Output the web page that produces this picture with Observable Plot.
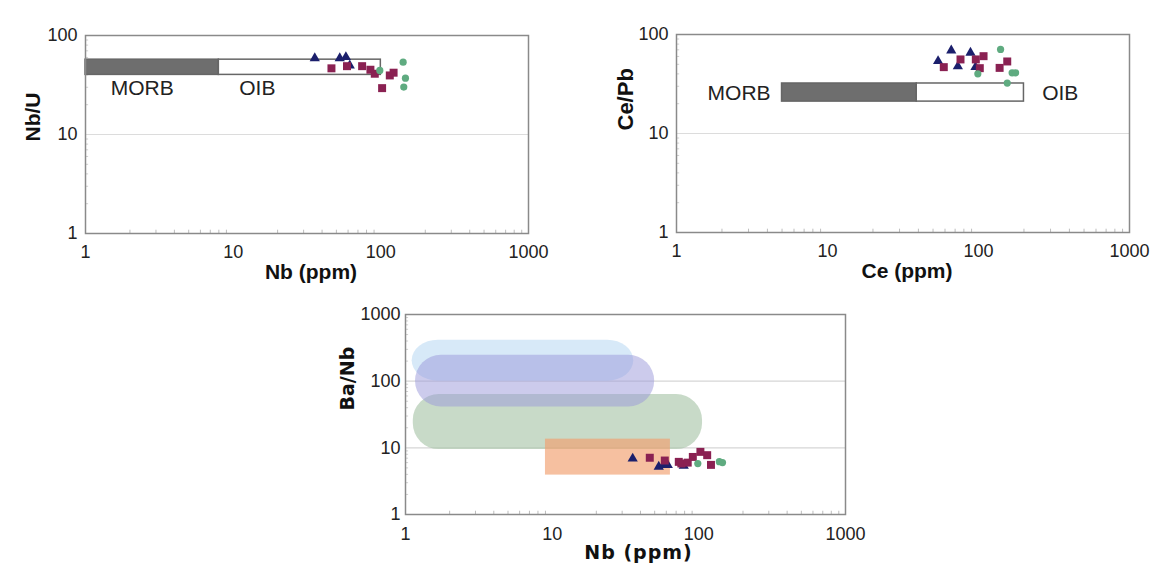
<!DOCTYPE html>
<html><head><meta charset="utf-8">
<script src="https://cdn.jsdelivr.net/npm/d3@7"></script>
<script src="https://cdn.jsdelivr.net/npm/@observablehq/plot@0.6"></script>
<style>
html,body{margin:0;padding:0;background:#fff;}
#wrap{position:relative;width:1160px;height:571px;overflow:hidden;background:#fff;}
.panel{position:absolute;}
</style></head><body><div id="wrap">
<div class="panel" id="p1" style="left:0;top:0"></div>
<div class="panel" id="p2" style="left:580px;top:0"></div>
<div class="panel" id="p3" style="left:320px;top:290px"></div>
</div>
<script>
// ---------- tick labels ----------
const xTicks = [1, 10, 100, 1000];
const yTicksTop = [1, 10, 100];
const yTicksBottom = [1, 10, 100, 1000];
const gridTop = [10];
const gridBottom = [10, 100];

// ---------- Panel 1: Nb vs Nb/U ----------
const p1TriNb  = [35.7, 52.7, 58, 61.6];
const p1TriNbU = [59, 59, 60.5, 49.8];
const p1SqNb   = [46.3, 59, 74.7, 85, 91, 102, 115, 122];
const p1SqNbU  = [46.6, 49, 49, 45.1, 41.1, 29.4, 39.5, 42.1];
const p1CiNb   = [98.4, 141.6, 146.8, 143];
const p1CiNbU  = [44.4, 53.8, 37.1, 30.1];
const p1BoxName = ["MORB", "OIB"];
const p1BoxX1 = [1, 8];
const p1BoxX2 = [8, 100];
const p1BoxY1 = [40, 40];
const p1BoxY2 = [57, 57];
const p1LabelX = [1.48, 11];
const p1LabelY = [29, 29];

// ---------- Panel 2: Ce vs Ce/Pb ----------
const p2TriCe   = [54, 66, 73, 88.5, 95.5];
const p2TriCePb = [53.8, 69, 47.6, 65.4, 46.8];
const p2SqCe    = [58.9, 76, 96, 102, 108, 138, 155];
const p2SqCePb  = [46.8, 56, 56, 45.7, 60.4, 46, 53.4];
const p2CiCe    = [99, 140, 167, 176, 155];
const p2CiCePb  = [40.1, 70.6, 41, 41, 32.3];
const p2BoxName = ["MORB", "OIB"];
const p2BoxX1 = [5, 39];
const p2BoxX2 = [39, 200];
const p2BoxY1 = [21, 21];
const p2BoxY2 = [32, 32];
const p2MorbLabel = {x: 4.2, y: 25.6};
const p2OibLabel = {x: 264, y: 25.6};

// ---------- Panel 3: Nb vs Ba/Nb ----------
const p3TriNb   = [35.4, 53.3, 57.6, 61.4, 78.9];
const p3TriBaNb = [6.9, 5.2, 5.5, 5.5, 5.4];
const p3SqNb    = [46.3, 58.6, 73, 76, 84, 91, 102.5, 114, 121];
const p3SqBaNb  = [7.1, 6.45, 6.16, 5.82, 6.0, 7.3, 8.7, 7.76, 5.55];
const p3CiNb    = [98.4, 138, 145];
const p3CiBaNb  = [5.8, 6.2, 6.0];
const fieldX1 = [1.13, 1.11, 1.17];
const fieldX2 = [106, 36, 50];
const fieldY1 = [9.4, 100, 41];
const fieldY2 = [63, 411, 245];
const fieldFill = ["#aac6aa", "#c6e0f5", "#9a98da"];
const fieldOpacity = [0.65, 0.7, 0.5];
const boxX1 = [9];
const boxX2 = [64];
const boxY1 = [3.9];
const boxY2 = [13.5];

// ---------- helpers ----------
const sans = "'Liberation Sans', Arial, sans-serif";
const zip = (xs, ys) => xs.map((x, i) => ({x, y: ys[i]}));
const minorDecades = (lo, hi) => {
  const out = [];
  for (let d = lo; d < hi; d *= 10) for (let k = 2; k <= 9; k++) out.push(d * k);
  return out;
};
const C_TRI = "#1b1f6c", C_SQ = "#8a2152", C_CI = "#5fab80";

function seriesMarks(tri, sq, ci) {
  return [
    Plot.dot(tri, {x: "x", y: "y", symbol: "triangle", r: 3.8, fill: C_TRI}),
    Plot.dot(sq, {x: "x", y: "y", symbol: "square", r: 4.5, fill: C_SQ}),
    Plot.dot(ci, {x: "x", y: "y", symbol: "circle", r: 3.6, fill: C_CI})
  ];
}

function axes(yDomain, yTicks, padY, padX) {
  return {
    x: {type: "log", domain: [1, 1000], ticks: xTicks, tickFormat: d => String(d), tickSize: 0, tickPadding: padX, label: null},
    y: {type: "log", domain: yDomain, ticks: yTicks, tickFormat: d => String(d), tickSize: 0, tickPadding: padY, label: null}
  };
}
function minorMarks(yLo, yHi, dy, dx) {
  return [
    Plot.ruleX(minorDecades(1, 1000), {y1: yLo, y2: yLo * dy, stroke: "#bdbdbd"}),
    Plot.ruleY(minorDecades(yLo, yHi), {x1: 1, x2: dx, stroke: "#d0d0d0"})
  ];
}
const baseStyle = {fontFamily: sans, fontSize: "18px", color: "#222", background: "transparent", overflow: "visible"};

// ---------- Panel 1 ----------
const p1Boxes = p1BoxName.map((n, i) => ({n, x1: p1BoxX1[i], x2: p1BoxX2[i], y1: p1BoxY1[i], y2: p1BoxY2[i]}));
const plot1 = Plot.plot({
  width: 560, height: 290,
  marginLeft: 85, marginRight: 32, marginTop: 35, marginBottom: 57,
  style: baseStyle,
  ...axes([1, 100], yTicksTop, 8, 12),
  marks: [
    Plot.ruleY(gridTop, {stroke: "#dcdcdc", strokeWidth: 1.2}),
    ...minorMarks(1, 100, 1.08, 1.05),
    Plot.rect(p1Boxes, {x1: "x1", x2: "x2", y1: "y1", y2: "y2",
      fill: d => d.n === "MORB" ? "#6e6e6e" : "#ffffff", stroke: "#666", strokeWidth: 1.5}),
    Plot.text(p1BoxName, {x: (d, i) => p1LabelX[i], y: (d, i) => p1LabelY[i], text: d => d,
      textAnchor: "start", fontSize: 21, fill: "#222", fontFamily: sans}),
    ...seriesMarks(zip(p1TriNb, p1TriNbU), zip(p1SqNb, p1SqNbU), zip(p1CiNb, p1CiNbU)),
    Plot.frame({stroke: "#8a8a8a", strokeWidth: 1.5}),
    Plot.text(["Nb (ppm)"], {frameAnchor: "bottom", dy: 45, dx: 4, text: d => d,
      fontWeight: "bold", fontSize: 21, fill: "#111", fontFamily: sans}),
    Plot.text(["Nb/U"], {frameAnchor: "left", dx: -52, dy: 7, rotate: -90, text: d => d,
      fontWeight: "bold", fontSize: 21, fill: "#111", fontFamily: sans})
  ]
});
document.getElementById("p1").appendChild(plot1);

// ---------- Panel 2 ----------
const p2Boxes = p2BoxName.map((n, i) => ({n, x1: p2BoxX1[i], x2: p2BoxX2[i], y1: p2BoxY1[i], y2: p2BoxY2[i]}));
const plot2 = Plot.plot({
  width: 580, height: 290,
  marginLeft: 96, marginRight: 31, marginTop: 34, marginBottom: 58,
  style: baseStyle,
  ...axes([1, 100], yTicksTop, 8, 12),
  marks: [
    Plot.ruleY(gridTop, {stroke: "#dcdcdc", strokeWidth: 1.2}),
    ...minorMarks(1, 100, 1.08, 1.05),
    Plot.rect(p2Boxes, {x1: "x1", x2: "x2", y1: "y1", y2: "y2",
      fill: d => d.n === "MORB" ? "#6e6e6e" : "#ffffff", stroke: "#666", strokeWidth: 1.5}),
    Plot.text(["MORB"], {x: p2MorbLabel.x, y: p2MorbLabel.y, text: d => d, textAnchor: "end",
      fontSize: 21, fill: "#222", fontFamily: sans}),
    Plot.text(["OIB"], {x: p2OibLabel.x, y: p2OibLabel.y, text: d => d, textAnchor: "start",
      fontSize: 21, fill: "#222", fontFamily: sans}),
    ...seriesMarks(zip(p2TriCe, p2TriCePb), zip(p2SqCe, p2SqCePb), zip(p2CiCe, p2CiCePb)),
    Plot.frame({stroke: "#8a8a8a", strokeWidth: 1.5}),
    Plot.text(["Ce (ppm)"], {frameAnchor: "bottom", dy: 45, dx: 4, text: d => d,
      fontWeight: "bold", fontSize: 21, fill: "#111", fontFamily: sans}),
    Plot.text(["Ce/Pb"], {frameAnchor: "left", dx: -51, dy: -3, rotate: -90, text: d => d,
      fontWeight: "bold", fontSize: 22, fill: "#111", fontFamily: sans})
  ]
});
document.getElementById("p2").appendChild(plot2);

// ---------- Panel 3 ----------
const fields = fieldX1.map((x1, i) => ({x1, x2: fieldX2[i], y1: fieldY1[i], y2: fieldY2[i], fill: fieldFill[i], op: fieldOpacity[i]}));
const boxes = boxX1.map((x1, i) => ({x1, x2: boxX2[i], y1: boxY1[i], y2: boxY2[i]}));
const plot3 = Plot.plot({
  width: 560, height: 281,
  marginLeft: 85, marginRight: 35, marginTop: 24, marginBottom: 57,
  style: baseStyle,
  color: {type: "identity"},
  opacity: {type: "identity"},
  ...axes([1, 1000], yTicksBottom, 5, 13),
  marks: [
    Plot.ruleY(gridBottom, {stroke: "#d6d6d6", strokeWidth: 1.2}),
    ...minorMarks(1, 1000, 1.12, 1.05),
    Plot.rect(fields, {x1: "x1", x2: "x2", y1: "y1", y2: "y2", fill: "fill", fillOpacity: "op", rx: 26}),
    Plot.rect(boxes, {x1: "x1", x2: "x2", y1: "y1", y2: "y2", fill: "#f19e6d", fillOpacity: 0.65}),
    ...seriesMarks(zip(p3TriNb, p3TriBaNb), zip(p3SqNb, p3SqBaNb), zip(p3CiNb, p3CiBaNb)),
    Plot.frame({stroke: "#8a8a8a", strokeWidth: 1.5}),
    Plot.text(["Nb (ppm)"], {frameAnchor: "bottom", dy: 44, dx: 13, text: d => d,
      fontWeight: "bold", fontSize: 19, fill: "#111", fontFamily: "'DejaVu Sans', Verdana, sans-serif"}),
    Plot.text(["Ba/Nb"], {frameAnchor: "left", dx: -58, dy: -4, rotate: -90, text: d => d,
      fontWeight: "bold", fontSize: 19, fill: "#111", fontFamily: "'DejaVu Sans', Verdana, sans-serif"})
  ]
});
plot3.querySelectorAll("text").forEach(t => {
  if (t.textContent === "Nb (ppm)") t.style.letterSpacing = "1px";
});
document.getElementById("p3").appendChild(plot3);
</script>
</body></html>
